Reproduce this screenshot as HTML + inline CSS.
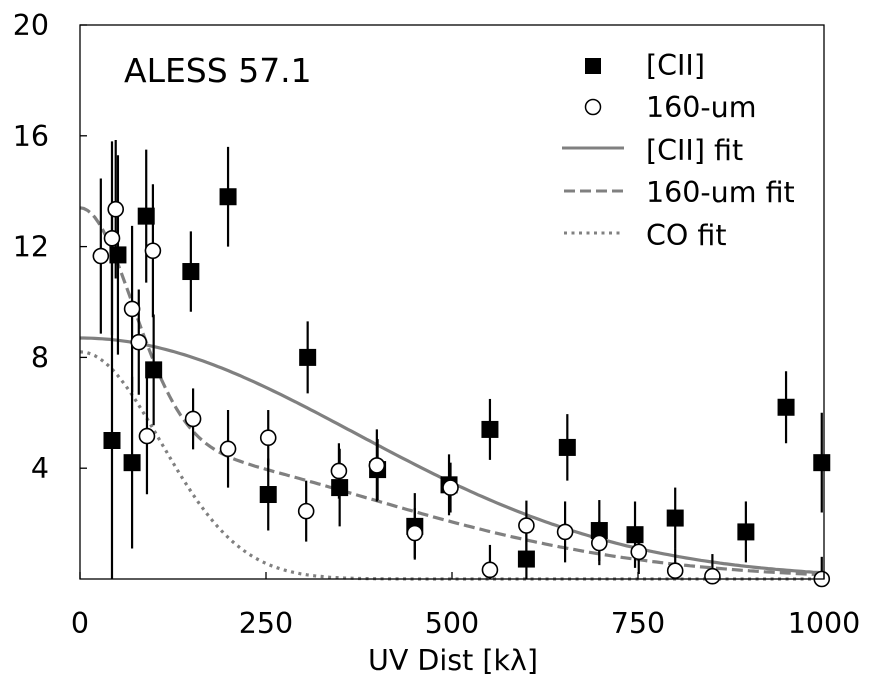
<!DOCTYPE html>
<html><head><meta charset="utf-8"><style>
body{margin:0;background:#fff}
svg{display:block;font-family:"DejaVu Sans","Liberation Sans",sans-serif}
</style></head><body>
<svg id="chart" width="876" height="689" viewBox="0 0 876 689">
<rect x="0" y="0" width="876" height="689" fill="#fff"/>
<g id="fits"></g>
<g id="points"></g>
<rect x="80" y="25" width="744" height="554" fill="none" stroke="#000" stroke-width="1.3"/>
<g id="axes"></g>
<text x="124" y="82" font-size="33">ALESS 57.1</text>
<g font-size="28.5">
  <g><rect x="585" y="58" width="16" height="16" fill="#000"/><text x="646" y="75">[CII]</text></g>
  <g><circle cx="593" cy="107" r="7.5" fill="#fff" stroke="#000" stroke-width="1.5"/><text x="646" y="117">160-um</text></g>
  <g><line x1="562" y1="148" x2="624" y2="148" stroke="#808080" stroke-width="3"/><text x="646" y="160">[CII] fit</text></g>
  <g><line x1="564" y1="191" x2="624" y2="191" stroke="#808080" stroke-width="3" stroke-dasharray="11,5"/><text x="646" y="202">160-um fit</text></g>
  <g><line x1="564" y1="233" x2="624" y2="233" stroke="#808080" stroke-width="3" stroke-dasharray="3,4.5"/><text x="646" y="245">CO fit</text></g>
</g>
<text x="453" y="670" font-size="28.5" text-anchor="middle">UV Dist [kλ]</text>
</svg>
<script>
const xTicks=[0,250,500,750,1000];
const yTicks=[4,8,12,16,20];
const ciiU=[43,51,70,89,99,149,199,253,306,349,400,450,496,551,600,655,698,746,800,895,949,997];
const ciiV=[5.0,11.7,4.2,13.1,7.55,11.1,13.8,3.05,8.0,3.3,3.95,1.9,3.4,5.4,0.72,4.75,1.75,1.6,2.2,1.7,6.2,4.2];
const ciiE=[8.2,3.6,3.1,2.4,2.0,1.45,1.8,1.3,1.3,1.4,1.1,1.2,1.1,1.1,1.2,1.2,1.1,1.2,1.1,1.1,1.3,1.8];
const umU=[28,43,48,70,79,90,98,152,199,253,304,348,399,450,498,551,600,652,698,751,800,850,997];
const umV=[11.66,12.3,13.35,9.75,8.55,5.16,11.85,5.78,4.7,5.1,2.45,3.9,4.1,1.66,3.3,0.33,1.93,1.7,1.3,0.98,0.3,0.1,0.0];
const umE=[2.8,3.5,2.5,3.0,1.9,2.1,2.4,1.1,1.4,1.0,1.1,1.0,1.3,0.9,0.9,0.9,0.9,1.1,0.8,0.8,0.8,0.8,0.8];
const ciiFit=[8.7,369];
const umFit=[8.5,70,4.9,380];
const coFit=[8.2,108];

const NS="http://www.w3.org/2000/svg";
const X=u=>80+u*0.744, Y=v=>579-v*27.7;
function mk(tag,attrs,parent){const e=document.createElementNS(NS,tag);for(const k in attrs)e.setAttribute(k,attrs[k]);parent.appendChild(e);return e;}
const axes=document.getElementById('axes'),fits=document.getElementById('fits'),pts=document.getElementById('points');
xTicks.forEach(t=>{
  const l=mk('line',{x1:X(t),x2:X(t),y1:579,y2:572,stroke:'#000','stroke-width':1.3},axes);
  
  
  const tx=mk('text',{x:X(t),y:633,'font-size':28.5,'text-anchor':'middle'},axes);tx.textContent=t;
  
  
});
yTicks.forEach(t=>{
  const l=mk('line',{x1:80,x2:87,y1:Y(t),y2:Y(t),stroke:'#000','stroke-width':1.3},axes);
  
  
  const tx=mk('text',{x:49,y:Y(t)+10,'font-size':28.5,'text-anchor':'end'},axes);tx.textContent=t;
  
  
});
function curve(f,dash,name){let d='';for(let u=0;u<=1000;u+=5){d+=(u?'L':'M')+X(u).toFixed(1)+','+Y(f(u)).toFixed(1);}
  const p=mk('path',{d:d,fill:'none',stroke:'#808080','stroke-width':3.2,'stroke-dasharray':dash},fits);
  
  }
const g=(a,s,u)=>a*Math.exp(-u*u/(2*s*s));
curve(u=>g(ciiFit[0],ciiFit[1],u),'none','cii-fit-line');
curve(u=>g(umFit[0],umFit[1],u)+g(umFit[2],umFit[3],u),'11,5','160um-fit-line');
curve(u=>g(coFit[0],coFit[1],u),'3,4.5','co-fit-line');
function errs(U,V,E){U.forEach((u,i)=>{const l=mk('line',{x1:X(u),x2:X(u),y1:Y(V[i]+E[i]),y2:Y(Math.max(0,V[i]-E[i])),stroke:'#000','stroke-width':2.2},pts);
  
  });}
errs(ciiU,ciiV,ciiE);errs(umU,umV,umE);
ciiU.forEach((u,i)=>{const r=mk('rect',{x:X(u)-8.5,y:Y(ciiV[i])-8.5,width:17,height:17,fill:'#000'},pts);
  
  });
umU.forEach((u,i)=>{const c=mk('circle',{cx:X(u),cy:Y(umV[i]),r:7.5,fill:'#fff',stroke:'#000','stroke-width':1.6},pts);
  
  });
</script>
</body></html>
